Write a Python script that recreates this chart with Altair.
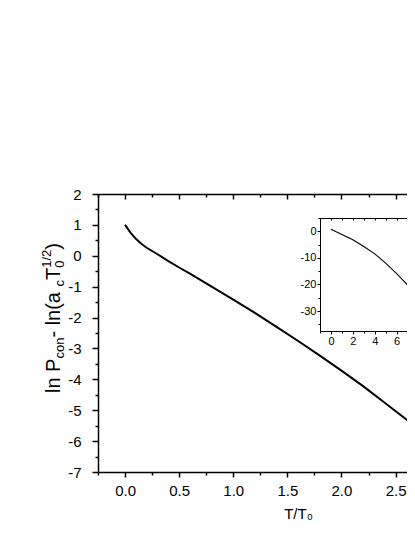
import altair as alt
import pandas as pd

# ---------------- data ----------------
main_t = [0.0, 0.05, 0.1, 0.15, 0.2, 0.3, 0.4, 0.5, 0.6, 0.8, 1.0, 1.2, 1.4,
          1.6, 1.8, 2.0, 2.2, 2.4, 2.6, 2.8]
main_v = [1.0, 0.75, 0.55, 0.39, 0.26, 0.05, -0.17, -0.38, -0.58, -1.0, -1.42,
          -1.85, -2.30, -2.76, -3.23, -3.72, -4.22, -4.76, -5.30, -5.86]

inset_t = [0, 1, 2, 3, 4, 5, 6, 7, 7.6]
inset_v = [0.8, -1.2, -3.2, -5.7, -8.5, -12.0, -15.9, -20.2, -23.2]

x_ticks = [-0.25, 0.0, 0.25, 0.5, 0.75, 1.0, 1.25, 1.5, 1.75, 2.0, 2.25, 2.5]
y_ticks = [-7, -6.5, -6, -5.5, -5, -4.5, -4, -3.5, -3, -2.5, -2, -1.5, -1, -0.5,
           0, 0.5, 1, 1.5, 2]
inset_x_ticks = [-1, 0, 1, 2, 3, 4, 5, 6, 7]
inset_y_ticks = [-35, -30, -25, -20, -15, -10, -5, 0, 5]
inset_x_labels = [0, 2, 4, 6]
inset_y_labels = [-30, -20, -10, 0]

x_title = "T/T₀"

main_df = pd.DataFrame({"t": main_t, "v": main_v})
inset_df = pd.DataFrame({"t": inset_t, "v": inset_v})

# ---------------- layout ----------------
FONT = "Liberation Sans"
W, H = 309, 278
XDOM = [-0.25, -0.25 + W / 108.2]
YDOM = [-7, 2]

# inset geometry (view coordinates)
IN_LEFT, IN_TOP, IN_BOTTOM = 222, 24, 137
IN_XDOM = [-1, 9]
IN_PX_PER_UNIT = 10.95
IN_XRANGE = [IN_LEFT, IN_LEFT + IN_PX_PER_UNIT * (IN_XDOM[1] - IN_XDOM[0])]
IN_YDOM = [-37.5, 5]
IN_YRANGE = [IN_BOTTOM, IN_TOP]

half_test = "abs(datum.value*2 - round(datum.value*2)) < 1e-6"
int_test = "abs(datum.value - round(datum.value)) < 1e-6"
in_x_lab = "[" + ",".join(str(v) for v in inset_x_labels) + "]"
in_y_lab = "[" + ",".join(str(v) for v in inset_y_labels) + "]"

main_x_scale = alt.Scale(domain=XDOM, nice=False, zero=False)
main_y_scale = alt.Scale(domain=YDOM, nice=False, zero=False)
in_x_scale = alt.Scale(domain=IN_XDOM, range=IN_XRANGE, nice=False, zero=False)
in_y_scale = alt.Scale(domain=IN_YDOM, range=IN_YRANGE, nice=False, zero=False)

main_line = alt.Chart(main_df).mark_line(color="black", strokeWidth=2, clip=True).encode(
    x=alt.X("t:Q", scale=main_x_scale,
            axis=alt.Axis(values=x_ticks, orient="bottom",
                          labelExpr=f"({half_test}) ? format(datum.value, '.1f') : ''",
                          tickSize={"condition": {"test": half_test, "value": 5}, "value": 3},
                          labelPadding=6, labelFontSize=15,
                          title=x_title, titleX=200, titleY=46.5, titleAlign="center",
                          titleBaseline="alphabetic", titleFontSize=15,
                          titleFontWeight="normal")),
    y=alt.Y("v:Q", scale=main_y_scale,
            axis=alt.Axis(values=y_ticks, orient="left",
                          labelExpr=f"({int_test}) ? '' + datum.value : ''",
                          tickSize={"condition": {"test": int_test, "value": 6}, "value": 3},
                          labelPadding=11, labelFontSize=15, title=None)),
)

# top border of main frame, ticks pointing inward
main_top = alt.Chart(main_df).mark_line(opacity=0).encode(
    x=alt.X("t:Q", scale=main_x_scale,
            axis=alt.Axis(values=x_ticks, orient="bottom", offset=-H, labels=False,
                          tickSize={"condition": {"test": half_test, "value": 5}, "value": 3},
                          title=None)),
    y=alt.Y("v:Q", scale=main_y_scale, axis=None),
)

inset_line = alt.Chart(inset_df).mark_line(color="black", strokeWidth=1.1).encode(
    x=alt.X("t:Q", scale=in_x_scale,
            axis=alt.Axis(values=inset_x_ticks, orient="bottom", offset=-(H - IN_BOTTOM),
                          labelExpr=f"indexof({in_x_lab}, datum.value) >= 0 ? '' + datum.value : ''",
                          tickSize={"condition": {"test": "datum.value % 2 == 0", "value": 3}, "value": 2},
                          labelPadding=1, labelFontSize=11, domainWidth=1, tickWidth=1,
                          title=None)),
    y=alt.Y("v:Q", scale=in_y_scale,
            axis=alt.Axis(values=inset_y_ticks, orient="left", offset=-IN_LEFT,
                          labelExpr=f"indexof({in_y_lab}, datum.value) >= 0 ? '' + datum.value : ''",
                          tickSize={"condition": {"test": "datum.value % 10 == 0", "value": 3}, "value": 2},
                          labelPadding=1, labelFontSize=11, domainWidth=1, tickWidth=1,
                          title=None)),
)

inset_top = alt.Chart(inset_df).mark_line(opacity=0).encode(
    x=alt.X("t:Q", scale=in_x_scale,
            axis=alt.Axis(values=inset_x_ticks, orient="bottom", offset=-(H - IN_TOP),
                          labels=False, tickSize=2, domainWidth=1, tickWidth=1, title=None)),
    y=alt.Y("v:Q", scale=in_y_scale, axis=None),
)

# ---------------- y title built from pieces (rotated) ----------------
WID = {"l": 222, "n": 556, " ": 278, "\u00a0": 278, "P": 667, "c": 500, "o": 556,
       "-": 333, "(": 333, ")": 333, "a": 556, "T": 611, "0": 556, "1": 556,
       "/": 278, "2": 556}
F, FS = 20, 13
pieces = [("ln P", F, 0, True), ("con", FS, 4, True), ("\u00a0-\u00a0ln(a", F, 0, True),
          ("c", FS, 4, True), ("T", F, 0, True), ("0", FS, 4, False),
          ("1/2", FS, -9, True), (")", F, 0, True)]
base_x = 59.5 - 98
cur_y = 393 - 194
title_layers = []
one = pd.DataFrame({"a": [0]})
for txt, fs, shift, advance in pieces:
    w = sum(WID[ch] for ch in txt) * fs / 1000
    title_layers.append(
        alt.Chart(one).mark_text(text=txt, angle=270, font=FONT, fontSize=fs,
                                 align="left", baseline="alphabetic", color="black")
        .encode(x=alt.value(base_x + shift), y=alt.value(cur_y))
    )
    if advance:
        cur_y -= w

chart = alt.layer(main_line, main_top, inset_line, inset_top, *title_layers).resolve_scale(
    x="independent", y="independent"
).properties(
    width=W, height=H,
    autosize=alt.AutoSizeParams(type="none"),
    padding={"left": 90, "top": 186, "right": 0, "bottom": 50},
).configure_view(stroke=None).configure_axis(
    grid=False, labelFont=FONT, titleFont=FONT, labelColor="black", titleColor="black",
    domainColor="black", tickColor="black", domainWidth=1.5, tickWidth=1.5,
    labelFlush=False, labelOverlap=False,
)

chart.save("out.html", embed_options={"renderer": "svg", "actions": False})
